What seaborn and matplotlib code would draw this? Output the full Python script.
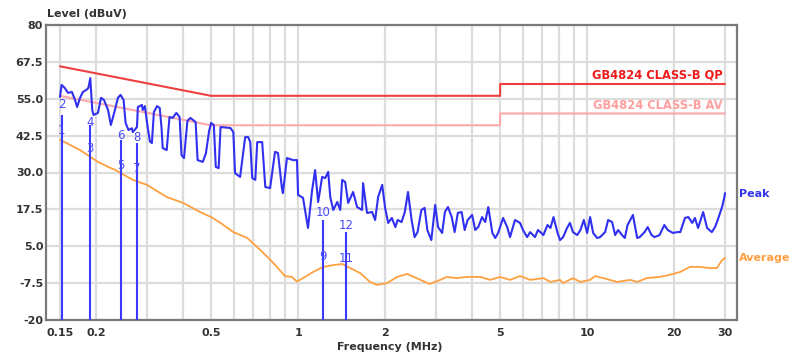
import matplotlib
matplotlib.use("Agg")
import matplotlib.pyplot as plt
from matplotlib.ticker import NullLocator
import seaborn as sns
import pandas as pd

# ---------------- data ----------------
peak_freq = [0.150, 0.152, 0.156, 0.160, 0.165, 0.169, 0.172, 0.176, 0.180, 0.185, 0.188, 0.191,
             0.194, 0.196, 0.203, 0.208, 0.213, 0.220, 0.225, 0.231, 0.238, 0.243, 0.249, 0.253,
             0.259, 0.266, 0.268, 0.277, 0.279, 0.288, 0.290, 0.295, 0.302, 0.307, 0.312, 0.317,
             0.325, 0.332, 0.337, 0.340, 0.351, 0.359, 0.368, 0.379, 0.389, 0.395, 0.403, 0.414,
             0.424, 0.442, 0.449, 0.468, 0.480, 0.492, 0.500, 0.511, 0.519, 0.531, 0.539, 0.583,
             0.597, 0.605, 0.630, 0.656, 0.672, 0.683, 0.694, 0.711, 0.722, 0.751, 0.770, 0.800,
             0.832, 0.852, 0.879, 0.886, 0.915, 0.960, 0.991, 1.000, 1.040, 1.082, 1.118, 1.145,
             1.173, 1.211, 1.241, 1.271, 1.292, 1.323, 1.366, 1.399, 1.421, 1.455, 1.490, 1.550,
             1.600, 1.665, 1.678, 1.732, 1.803, 1.847, 1.892, 1.954, 2.00, 2.05, 2.11, 2.17,
             2.21, 2.28, 2.34, 2.40, 2.47, 2.53, 2.59, 2.67, 2.74, 2.80, 2.89, 2.98,
             3.05, 3.15, 3.22, 3.30, 3.40, 3.48, 3.57, 3.68, 3.77, 3.86, 4.00, 4.10,
             4.20, 4.33, 4.44, 4.55, 4.70, 4.81, 4.92, 5.12, 5.29, 5.41, 5.63, 5.86,
             6.00, 6.20, 6.35, 6.60, 6.76, 6.89, 7.06, 7.29, 7.47, 7.65, 7.90, 8.06,
             8.26, 8.52, 8.72, 8.93, 9.24, 9.48, 9.74, 10.0, 10.24, 10.49, 10.83, 11.09,
             11.54, 11.82, 12.2, 12.5, 12.8, 13.2, 13.5, 13.8, 14.4, 14.9, 15.2, 15.8,
             16.2, 16.7, 17.1, 17.8, 18.5, 19.0, 19.8, 20.5, 21.0, 21.8, 22.4, 23.1,
             23.6, 24.2, 25.2, 26.0, 27.0, 27.7, 28.3, 29.3, 29.8, 30.0]
peak_level = [55.6, 59.7, 58.6, 57.0, 57.3, 54.6, 52.2, 55.3, 57.3, 58.0, 58.6, 62.0,
              51.2, 49.5, 50.2, 55.3, 54.6, 51.2, 46.1, 50.2, 55.3, 56.3, 54.6, 46.8,
              44.4, 45.0, 43.7, 45.4, 52.2, 52.9, 51.2, 52.5, 45.0, 40.5, 40.0, 50.5,
              52.5, 51.9, 45.0, 38.3, 37.6, 48.8, 48.5, 50.2, 48.8, 35.9, 34.9, 47.5,
              48.5, 47.1, 34.2, 33.6, 36.6, 44.0, 46.8, 46.1, 31.9, 31.5, 45.4, 45.1,
              43.7, 29.8, 28.5, 42.0, 42.0, 40.3, 28.1, 27.5, 40.3, 40.3, 25.1, 24.7,
              37.0, 36.6, 24.7, 23.0, 34.9, 34.2, 34.2, 22.4, 21.4, 11.2, 24.0, 30.8,
              20.0, 28.5, 28.1, 30.2, 21.7, 17.3, 20.0, 17.3, 27.5, 26.8, 19.7, 23.4,
              18.3, 17.3, 26.4, 16.3, 16.6, 13.9, 21.7, 25.8, 18.0, 12.9, 14.6, 11.5,
              13.9, 13.2, 16.6, 23.4, 13.9, 8.1, 9.8, 17.3, 18.0, 10.5, 7.1, 19.0,
              11.5, 9.5, 16.6, 18.3, 14.9, 9.8, 16.3, 16.6, 10.5, 13.9, 15.6, 10.5,
              11.5, 14.9, 13.2, 18.3, 9.5, 7.8, 9.5, 14.6, 11.5, 8.1, 13.9, 12.9,
              10.5, 8.1, 9.8, 8.1, 10.5, 9.8, 8.8, 12.2, 11.2, 14.9, 9.5, 7.1,
              8.1, 11.2, 12.9, 9.8, 8.8, 10.5, 13.9, 9.5, 14.9, 9.5, 7.8, 8.1,
              9.8, 13.9, 13.2, 8.8, 10.5, 8.8, 7.8, 12.2, 15.6, 7.8, 8.1, 9.8,
              11.5, 8.8, 8.1, 8.8, 12.2, 10.5, 9.5, 9.8, 9.8, 14.6, 14.9, 12.9,
              14.6, 11.2, 16.6, 11.2, 9.8, 11.5, 13.9, 18.3, 21.4, 23.0]

avg_freq = [0.150, 0.158, 0.176, 0.191, 0.203, 0.220, 0.234, 0.257, 0.268, 0.300, 0.351, 0.400,
            0.458, 0.500, 0.539, 0.597, 0.667, 0.722, 0.783, 0.845, 0.900, 0.952, 0.991, 1.040,
            1.127, 1.221, 1.323, 1.421, 1.514, 1.639, 1.774, 1.877, 2.03, 2.20, 2.38, 2.57,
            2.85, 3.10, 3.27, 3.54, 3.83, 4.27, 4.62, 5.00, 5.41, 5.86, 6.35, 7.06,
            7.47, 8.06, 8.26, 8.93, 9.48, 10.24, 10.66, 11.36, 12.7, 14.1, 14.9, 16.1,
            17.8, 19.3, 21.0, 22.7, 24.6, 26.6, 28.1, 29.3, 30.0]
avg_level = [41.0, 40.0, 37.6, 35.3, 33.6, 31.9, 30.8, 28.5, 27.5, 25.8, 21.7, 19.7,
             16.6, 14.9, 12.9, 9.8, 7.8, 4.7, 1.4, -2.0, -5.1, -5.4, -7.0, -5.8,
             -3.7, -2.0, -1.4, -1.0, -2.4, -4.1, -7.1, -8.1, -7.5, -5.4, -4.4, -5.8,
             -7.8, -6.4, -5.4, -5.8, -5.4, -5.4, -6.4, -5.4, -6.4, -5.1, -6.4, -5.8,
             -7.1, -6.4, -7.5, -5.8, -7.1, -6.4, -5.1, -5.8, -7.1, -6.4, -7.1, -5.8,
             -5.4, -4.7, -3.7, -2.0, -2.0, -2.4, -2.4, 0.3, 1.0]

qp_limit_freq = [0.15, 0.5, 5.0, 5.0, 30.0]
qp_limit_level = [66.0, 56.0, 56.0, 60.0, 60.0]
av_limit_freq = [0.15, 0.5, 5.0, 5.0, 30.0]
av_limit_level = [56.0, 46.0, 46.0, 50.0, 50.0]

marker_freq = [0.152, 0.191, 0.244, 0.277, 1.22, 1.47]
marker_top = [49.5, 46.0, 41.0, 40.0, 13.9, 9.8]
marker_av_ids = ["1", "3", "5", "7", "9", "11"]
marker_av_level = [44.4, 38.3, 32.5, 31.5, 1.4, 1.0]
marker_qp_ids = ["2", "4", "6", "8", "10", "12"]
marker_qp_level = [53.0, 47.1, 42.7, 41.7, 16.3, 12.2]

x_labeled_ticks = [0.15, 0.2, 0.5, 1, 2, 5, 10, 20, 30]
x_grid = [0.15, 0.2, 0.3, 0.4, 0.5, 0.6, 0.7, 0.8, 0.9, 1, 2, 3, 4, 5, 6, 7, 8, 9, 10, 20, 30]
y_ticks = [80, 67.5, 55.0, 42.5, 30.0, 17.5, 5.0, -7.5, -20]
y_tick_labels = ["80", "67.5", "55.0", "42.5", "30.0", "17.5", "5.0", "-7.5", "-20"]

# ---------------- plot ----------------
sns.set_theme(style="white")
plt.rcParams['font.family'] = ['DejaVu Sans']

fig = plt.figure(figsize=(8.0, 3.64), dpi=100)
ax = fig.add_axes([46 / 800, 1 - 320 / 364, (737 - 46) / 800, (320 - 25) / 364])

ax.set_xscale("log")
ax.set_xlim(0.1342, 33.0)
ax.set_ylim(-20, 80)

ax.set_xticks(x_grid)
ax.set_xticklabels([(f"{v:g}" if v in x_labeled_ticks else "") for v in x_grid])
ax.xaxis.set_minor_locator(NullLocator())
ax.set_yticks(y_ticks)
ax.set_yticklabels(y_tick_labels)
ax.grid(True, color="#dcdcdc", linewidth=1.6, zorder=0)
ax.set_axisbelow(True)
ax.tick_params(axis="x", length=0, pad=6, labelsize=8, colors="#333333")
ax.tick_params(axis="y", length=0, pad=2, labelsize=8, colors="#333333")
for lab in ax.get_xticklabels() + ax.get_yticklabels():
    lab.set_fontweight("bold")

for s in ax.spines.values():
    s.set_color("#7a7a7a")
    s.set_linewidth(1.6)

# limit lines
sns.lineplot(x=qp_limit_freq, y=qp_limit_level, ax=ax, color="#ee4040", linewidth=1.5,
             sort=False, estimator=None, legend=False)
sns.lineplot(x=av_limit_freq, y=av_limit_level, ax=ax, color="#ffaaaa", linewidth=1.5,
             sort=False, estimator=None, legend=False)

# traces
sns.lineplot(x=avg_freq, y=avg_level, ax=ax, color="#ffa040", linewidth=1.3,
             sort=False, estimator=None, legend=False)
sns.lineplot(x=peak_freq, y=peak_level, ax=ax, color="#3030f0", linewidth=1.5,
             sort=False, estimator=None, legend=False)

# markers
for f, top in zip(marker_freq, marker_top):
    ax.vlines(f, -20, top, color="#3a3aff", linewidth=1.5, zorder=4)
for f, lid, lv in zip(marker_freq, marker_av_ids, marker_av_level):
    ax.text(f, lv, lid, color="#4a4aff", fontsize=8.5, ha="center", va="center", zorder=5)
for f, lid, lv in zip(marker_freq, marker_qp_ids, marker_qp_level):
    ax.text(f, lv, lid, color="#4a4aff", fontsize=8.5, ha="center", va="center", zorder=5)

# limit labels
ax.text(29.5, 63.2, "GB4824 CLASS-B QP", color="#ee1c1c", fontsize=8.3, fontweight="bold",
        ha="right", va="center")
ax.text(29.5, 52.6, "GB4824 CLASS-B AV", color="#ff9f9f", fontsize=8.3, fontweight="bold",
        ha="right", va="center")

# trace labels
ax.text(1.003, 0.427, "Peak", transform=ax.transAxes, color="#3535ee", fontsize=8,
        fontweight="bold", ha="left", va="center")
ax.text(1.003, 0.21, "Average", transform=ax.transAxes, color="#ffa040", fontsize=8,
        fontweight="bold", ha="left", va="center")

# axis titles
fig.text(47 / 800, 1 - 14 / 364, "Level (dBuV)", fontsize=8, fontweight="bold",
         color="#333333", ha="left", va="center")
fig.text(390 / 800, 1 - 347 / 364, "Frequency (MHz)", fontsize=8, fontweight="bold",
         color="#333333", ha="center", va="center")
ax.set_xlabel("")
ax.set_ylabel("")

fig.savefig("out.png", dpi=100)
